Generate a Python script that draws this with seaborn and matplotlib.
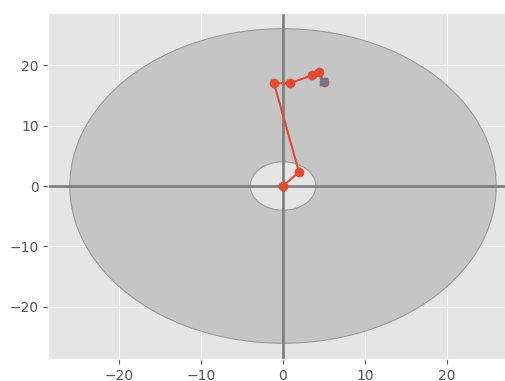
import matplotlib
matplotlib.use("Agg")
import matplotlib.pyplot as plt
import seaborn as sns
import pandas as pd
from matplotlib.patches import Circle

plt.style.use("ggplot")

x_vals = [0.0, 1.95, -1.1, 0.85, 3.55, 4.4, 5.0]
y_vals = [0.0, 2.3, 17.0, 17.0, 18.3, 18.8, 17.2]
outer_r = 26.0
inner_r = 4.0
lim = 28.6

df = pd.DataFrame({"x": x_vals, "y": y_vals, "step": range(len(x_vals))})

fig = plt.figure(figsize=(5.06, 3.81), dpi=100)
ax = fig.add_axes([48.5/506, 22/381, 469/506, 346/381])

ax.add_patch(Circle((0, 0), outer_r, facecolor="#c5c5c5", edgecolor="#999999", lw=0.8, zorder=1))
ax.add_patch(Circle((0, 0), inner_r, facecolor="#e5e5e5", edgecolor="#999999", lw=0.8, zorder=1.1))
ax.axhline(0, color="#808080", lw=2, zorder=1.5)
ax.axvline(0, color="#808080", lw=2, zorder=1.5)

sns.lineplot(data=df, x="x", y="y", sort=False, estimator=None, marker="o",
             markersize=7, markeredgewidth=0, color="#E24A33", lw=1.5, ax=ax, zorder=3)
ax.plot(x_vals[-1], y_vals[-1], marker="x", color="#348ABD", markersize=6, mew=1.5, zorder=4)

ax.set_xlim(-lim, lim)
ax.set_ylim(-lim, lim)
ax.set_xticks([-20, -10, 0, 10, 20])
ax.set_yticks([-20, -10, 0, 10, 20])
ax.set_xlabel("")
ax.set_ylabel("")
ax.tick_params(labelsize=10)

fig.savefig("out.png", dpi=100)
